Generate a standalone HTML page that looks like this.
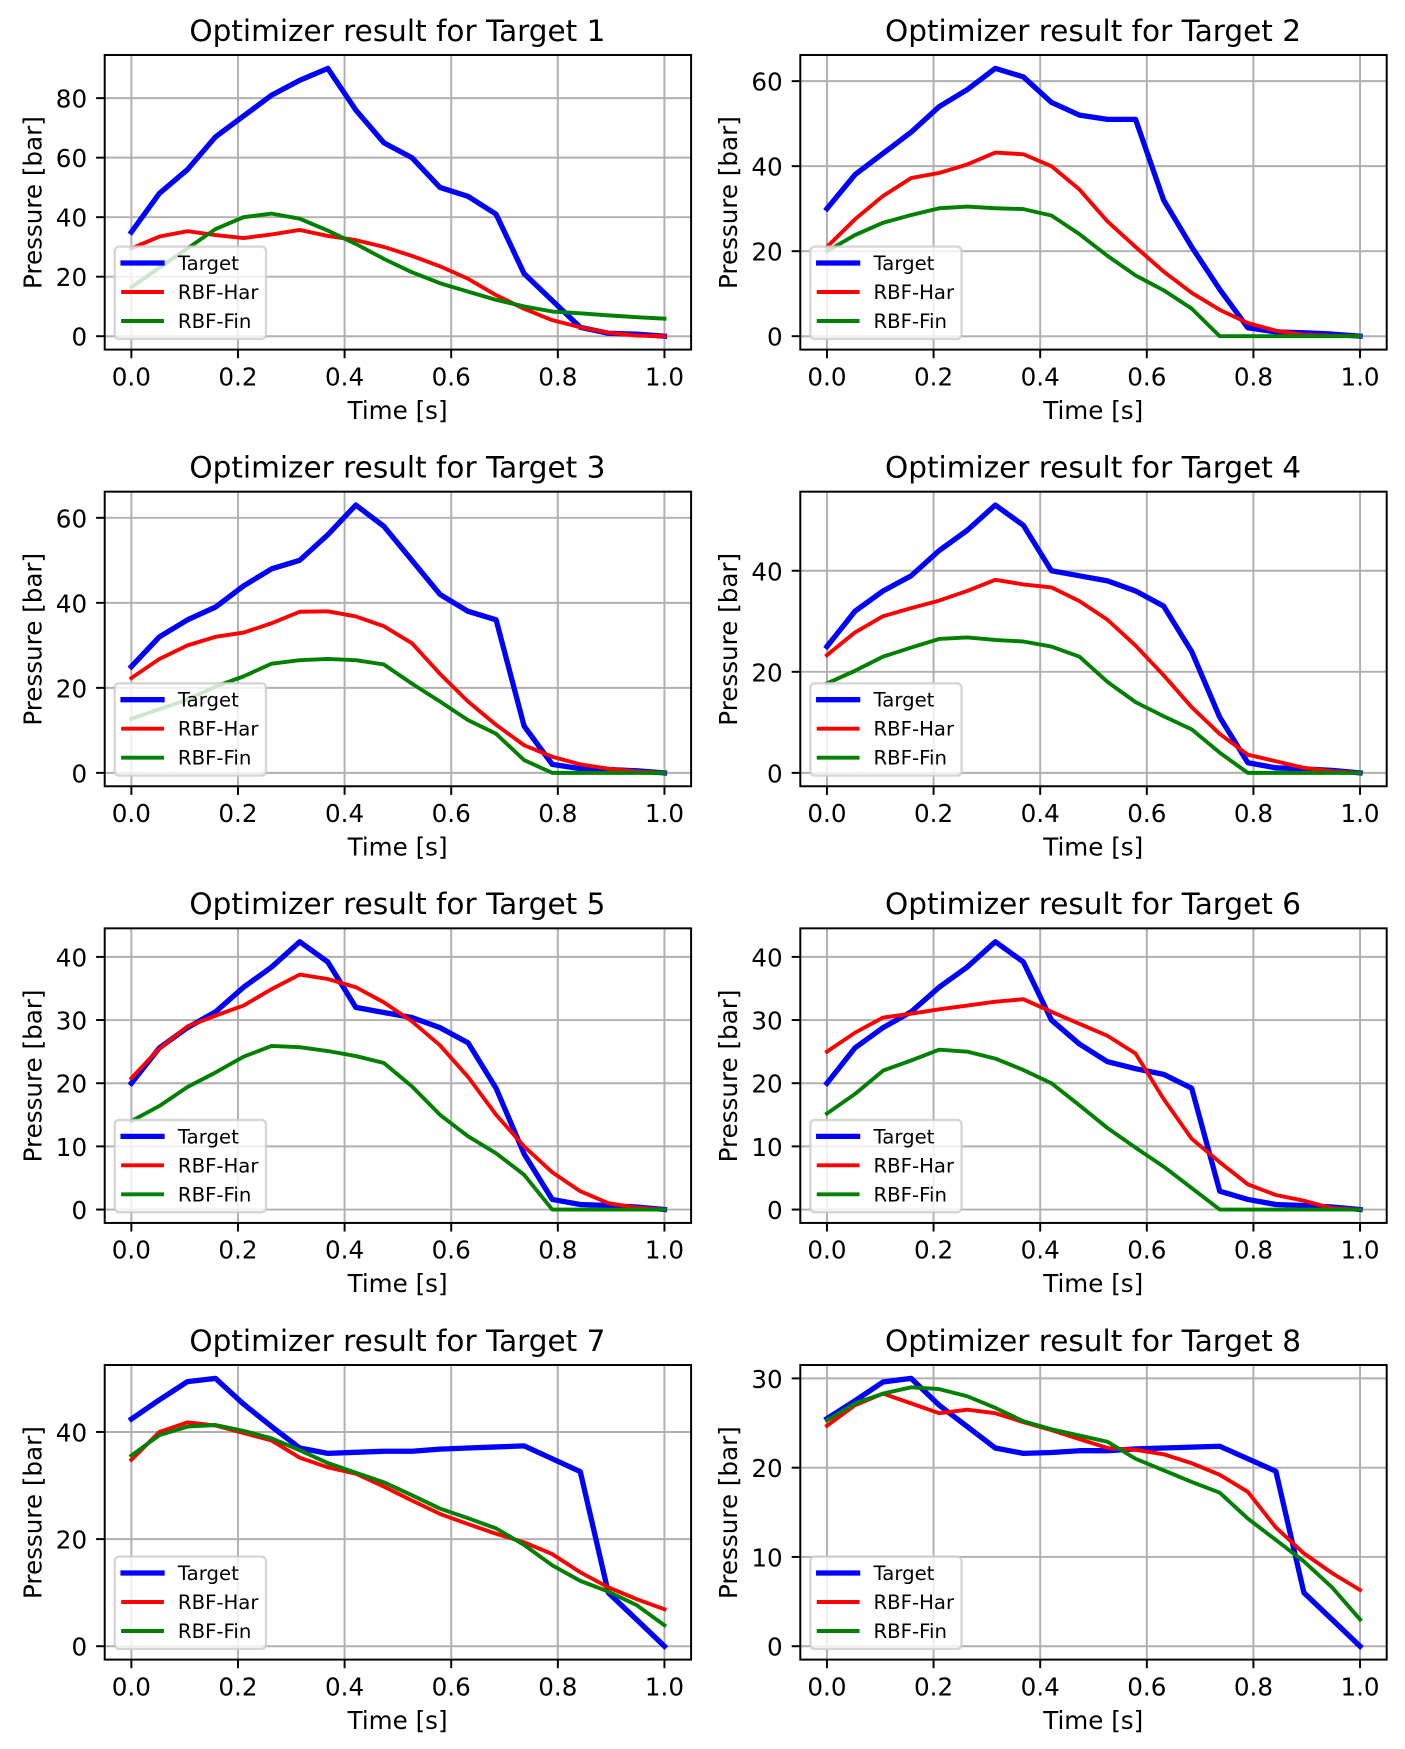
<!DOCTYPE html>
<html lang="en">
<head>
<meta charset="utf-8">
<title>Optimizer results</title>
<style>
html,body{margin:0;padding:0;background:#fff;}
svg{display:block;}
text{font-family:"DejaVu Sans","Liberation Sans",sans-serif;fill:#000;}
</style>
</head>
<body>
<svg id="figure" xmlns="http://www.w3.org/2000/svg" width="1405" height="1749" viewBox="0 0 1405 1749"></svg>
<script>
const times = [0,0.0526,0.1053,0.1579,0.2105,0.2632,0.3158,0.3684,0.4211,0.4737,0.5263,0.5789,0.6316,0.6842,0.7368,0.7895,0.8421,0.8947,0.9474,1];
const xTickValues = [0,0.2,0.4,0.6,0.8,1];

const target1 = [35,48,56,67,74,81,86,90,76,65,60,50,47,41,21,12,3,1,0.7,0];
const har1 = [29.5,33.5,35.3,34,33,34.2,35.7,33.7,32.3,30,27,23.5,19.3,13.8,9.2,5.4,3,1.2,0.2,0];
const fin1 = [16.5,23,29.5,36,40,41.2,39.5,35.5,31,26,21.5,17.8,15,12.2,10,8.3,7.7,7,6.4,5.9];
const yTicks1 = [0,20,40,60,80];

const target2 = [30,38,43,48,54,58,63,61,55,52,51,51,32,21,11,2,1,0.8,0.5,0];
const har2 = [21,27.5,33,37.2,38.4,40.4,43.2,42.8,40,34.5,27,21,15.2,10.2,6.2,3.1,1.3,0.3,0.1,0];
const fin2 = [20,23.8,26.7,28.5,30.1,30.5,30.1,29.9,28.4,24,18.9,14.3,10.8,6.5,0,0,0,0,0,0];
const yTicks2 = [0,20,40,60];

const target3 = [25,32,36,39,44,48,50,56,63,58,50,42,38,36,11,2,1,0.8,0.5,0];
const har3 = [22.3,26.8,30,32,33,35.2,37.9,38,36.8,34.5,30.5,23.3,16.8,11.3,6.5,3.8,2,1,0.3,0];
const fin3 = [12.7,15,17.2,20.3,22.7,25.7,26.5,26.8,26.5,25.5,21,16.8,12.4,9.2,3,0,0,0,0,0];
const yTicks3 = [0,20,40,60];

const target4 = [25,32,36,39,44,48,53,49,40,39,38,36,33,24,11,2,1,0.8,0.5,0];
const har4 = [23.3,27.8,31,32.6,34.1,36,38.2,37.3,36.7,34,30.3,25.2,19.3,13,7.7,3.6,2.3,1,0.3,0];
const fin4 = [17.7,20.2,23,24.8,26.5,26.8,26.3,26,25,23,18,14,11.2,8.6,4,0,0,0,0,0];
const yTicks4 = [0,20,40];

const target5 = [20,25.6,28.8,31.3,35.2,38.4,42.4,39.2,32,31.2,30.4,28.8,26.4,19.2,8.8,1.6,0.8,0.64,0.4,0];
const har5 = [20.8,25.5,29,30.7,32.3,34.9,37.2,36.5,35.2,32.8,29.8,26,21,15,10,5.9,2.9,1,0.3,0];
const fin5 = [14,16.4,19.4,21.7,24.2,25.9,25.7,25.1,24.3,23.2,19.5,15,11.6,8.9,5.5,0,0,0,0,0];
const yTicks5 = [0,10,20,30,40];

const target6 = [20,25.6,28.8,31.3,35.2,38.4,42.4,39.2,30,26.2,23.4,22.3,21.4,19.2,2.9,1.6,0.8,0.64,0.4,0];
const har6 = [25,28,30.4,31,31.7,32.3,32.9,33.3,31.3,29.4,27.5,24.7,17.5,11.2,7.5,4,2.3,1.4,0.2,0];
const fin6 = [15.2,18.3,22,23.6,25.3,25,23.9,22.1,20,16.5,12.9,9.8,6.8,3.4,0,0,0,0,0,0];
const yTicks6 = [0,10,20,30,40];

const target7 = [42.4,46,49.4,50,45.2,41,37,36,36.2,36.4,36.4,36.8,37,37.2,37.4,35,32.6,10,5,0];
const har7 = [34.8,40,41.8,41.2,39.8,38.4,35.2,33.4,32.2,29.8,27.2,24.7,22.8,21,19.4,17.2,13.8,11,8.8,6.9];
const fin7 = [35.6,39.4,41,41.3,40.2,38.8,36.6,34.2,32.4,30.6,28.2,25.7,23.9,22,18.9,15.1,12.2,10.2,7.7,3.9];
const yTicks7 = [0,20,40];

const target8 = [25.5,27.5,29.6,30,27,24.6,22.2,21.6,21.7,21.9,21.9,22.1,22.2,22.3,22.4,21,19.6,6,3,0];
const har8 = [24.7,27,28.3,27.2,26.1,26.5,26.1,25.1,24.2,23.2,22.2,22,21.5,20.5,19.2,17.3,13.3,10.4,8.2,6.3];
const fin8 = [25.3,27.2,28.3,29,28.8,28,26.7,25.2,24.3,23.6,22.9,21,19.7,18.4,17.2,14.3,11.9,9.5,6.6,3];
const yTicks8 = [0,10,20,30];

const targetsByChart = [target1,target2,target3,target4,target5,target6,target7,target8];
const harByChart = [har1,har2,har3,har4,har5,har6,har7,har8];
const finByChart = [fin1,fin2,fin3,fin4,fin5,fin6,fin7,fin8];
const yTicksByChart = [yTicks1,yTicks2,yTicks3,yTicks4,yTicks5,yTicks6,yTicks7,yTicks8];
const seriesLabels = ['Target','RBF-Har','RBF-Fin'];

const NS = 'http://www.w3.org/2000/svg';
const figure = document.getElementById('figure');
const AXW = 586.4, AXH = 294.6;

function node(parent, tag, props) {
  const el = document.createElementNS(NS, tag);
  for (const k in props) el.setAttribute(k, props[k]);
  parent.appendChild(el);
  return el;
}

function xAxisFn(left) {
  const lo = -0.05, hi = 1.05;
  return v => left + (v - lo) / (hi - lo) * AXW;
}

function yAxisFn(top, allValues) {
  const mn = Math.min.apply(null, allValues);
  const mx = Math.max.apply(null, allValues);
  const m = (mx - mn) * 0.05;
  const lo = mn - m, hi = mx + m;
  return v => top + AXH - (v - lo) / (hi - lo) * AXH;
}

function pathFrom(xs, ys, xFn, yFn) {
  return xs.map((x, i) => (i ? 'L' : 'M') + xFn(x).toFixed(2) + ' ' + yFn(ys[i]).toFixed(2)).join(' ');
}

const seriesColors = ['#0000ff', '#ff0000', '#008000'];
const seriesWidths = [5.3, 3.9, 3.9];

for (let c = 0; c < 8; c++) {
  const left = c % 2 === 0 ? 104.7 : 800.3;
  const top = 55 + Math.floor(c / 2) * 436.67;
  const bottom = top + AXH;
  const series = [targetsByChart[c], harByChart[c], finByChart[c]];
  const xFn = xAxisFn(left);
  const yFn = yAxisFn(top, series[0].concat(series[1], series[2]));
  const centerX = left + AXW / 2;
  const centerY = top + AXH / 2;

  const g = node(figure, 'g', {});
  
  

  const clipId = 'clip' + c;
  const defs = node(g, 'defs', {});
  const clip = node(defs, 'clipPath', {id: clipId});
  node(clip, 'rect', {x: left, y: top, width: AXW, height: AXH});

  const title = node(g, 'text', {x: centerX - 0.5, y: top - 14.2, 'text-anchor': 'middle', 'font-size': 29.5});
  title.textContent = 'Optimizer result for Target ' + (c + 1);
  
  

  const bg = node(g, 'rect', {x: left, y: top, width: AXW, height: AXH, fill: '#fff'});
  
  

  xTickValues.forEach(v => {
    const x = xFn(v);
    const grid = node(g, 'line', {x1: x, x2: x, y1: top, y2: bottom, stroke: '#b0b0b0', 'stroke-width': 1.97});
    
    
    const tick = node(g, 'line', {x1: x, x2: x, y1: bottom, y2: bottom + 8.6, stroke: '#000', 'stroke-width': 1.97});
    
    
    const label = node(g, 'text', {x: x, y: bottom + 35.8, 'text-anchor': 'middle', 'font-size': 24.6});
    label.textContent = v.toFixed(1);
    
    
  });

  yTicksByChart[c].forEach(v => {
    const y = yFn(v);
    const grid = node(g, 'line', {x1: left, x2: left + AXW, y1: y, y2: y, stroke: '#b0b0b0', 'stroke-width': 1.97});
    
    
    const tick = node(g, 'line', {x1: left - 8.6, x2: left, y1: y, y2: y, stroke: '#000', 'stroke-width': 1.97});
    
    
    const label = node(g, 'text', {x: left - 17.6, y: y + 9.5, 'text-anchor': 'end', 'font-size': 24.6});
    label.textContent = String(v);
    
    
  });

  series.forEach((vals, s) => {
    const line = node(g, 'path', {
      d: pathFrom(times, vals, xFn, yFn),
      fill: 'none',
      stroke: seriesColors[s],
      'stroke-width': seriesWidths[s],
      'stroke-linejoin': 'round',
      'stroke-linecap': 'square',
      'clip-path': 'url(#' + clipId + ')'
    });
    
    
  });

  const legend = node(g, 'g', {});
  
  
  const box = node(legend, 'rect', {
    x: left + 10, y: bottom - 103, width: 151.3, height: 92.3, rx: 4.5, ry: 4.5,
    fill: '#fff', 'fill-opacity': 0.8, stroke: '#cccccc', 'stroke-opacity': 0.8, 'stroke-width': 2.4
  });
  
  

  seriesLabels.forEach((name, s) => {
    const rowY = bottom - 86.6 + s * 29;
    const handle = node(legend, 'line', {
      x1: left + 18.4, x2: left + 57.3, y1: rowY, y2: rowY,
      stroke: seriesColors[s], 'stroke-width': seriesWidths[s], 'stroke-linecap': 'square'
    });
    
    
    const text = node(legend, 'text', {x: left + 73.2, y: rowY + 7, 'font-size': 19.7});
    text.textContent = name;
    
    
  });

  const frame = node(g, 'rect', {x: left, y: top, width: AXW, height: AXH, fill: 'none', stroke: '#000', 'stroke-width': 1.97});
  
  

  const xTitle = node(g, 'text', {x: centerX - 0.3, y: bottom + 69.2, 'text-anchor': 'middle', 'font-size': 24.6});
  xTitle.textContent = 'Time [s]';
  
  

  const yx = left - 63.2;
  const yy = centerY + 0.3;
  const yTitle = node(g, 'text', {x: yx, y: yy, 'text-anchor': 'middle', 'font-size': 24.6, transform: 'rotate(-90 ' + yx + ' ' + yy + ')'});
  yTitle.textContent = 'Pressure [bar]';
  
  
}
</script>
</body>
</html>
